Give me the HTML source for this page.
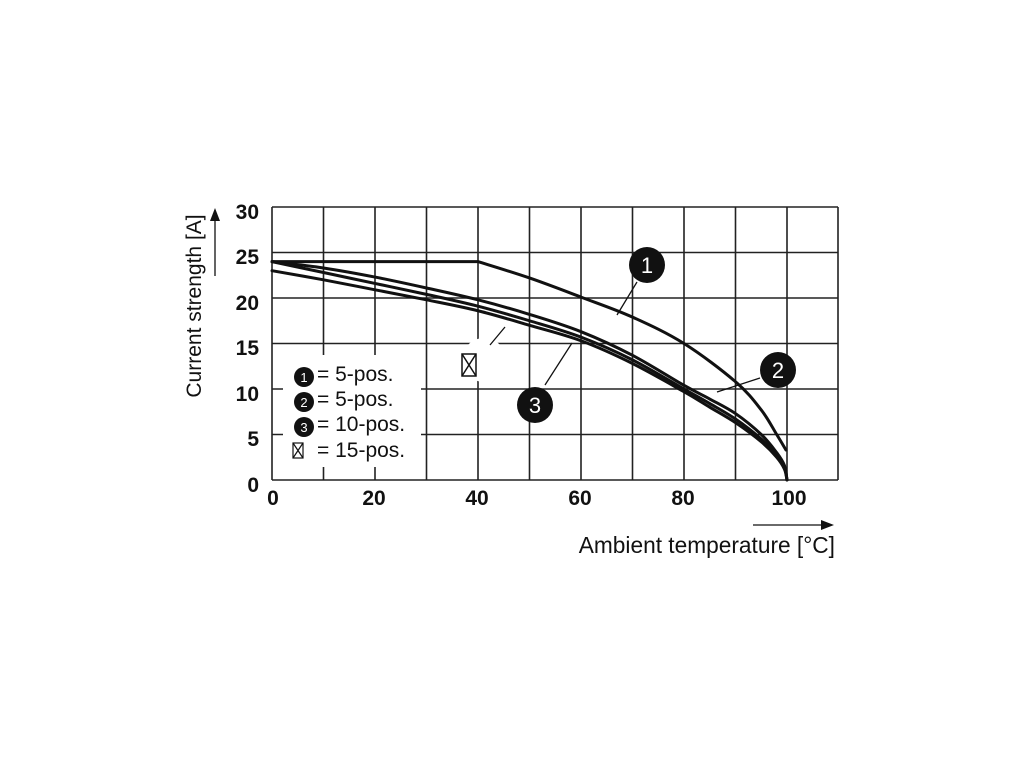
<!DOCTYPE html>
<html><head><style>body{margin:0;background:#fff}</style></head><body>
<svg id="s" width="1020" height="765" viewBox="0 0 1020 765" xmlns="http://www.w3.org/2000/svg" font-family="Liberation Sans, sans-serif">
<rect width="1020" height="765" fill="#fff"/>
<g stroke="#222" stroke-width="1.6">
<line x1="272" y1="207" x2="838" y2="207"/><line x1="272" y1="252.5" x2="838" y2="252.5"/><line x1="272" y1="298" x2="838" y2="298"/><line x1="272" y1="343.5" x2="838" y2="343.5"/><line x1="272" y1="389" x2="838" y2="389"/><line x1="272" y1="434.5" x2="838" y2="434.5"/><line x1="272" y1="480" x2="838" y2="480"/>
<line x1="272" y1="207" x2="272" y2="480"/><line x1="323.5" y1="207" x2="323.5" y2="480"/><line x1="375" y1="207" x2="375" y2="480"/><line x1="426.5" y1="207" x2="426.5" y2="480"/><line x1="478" y1="207" x2="478" y2="480"/><line x1="529.5" y1="207" x2="529.5" y2="480"/><line x1="581" y1="207" x2="581" y2="480"/><line x1="632.5" y1="207" x2="632.5" y2="480"/><line x1="684" y1="207" x2="684" y2="480"/><line x1="735.5" y1="207" x2="735.5" y2="480"/><line x1="787" y1="207" x2="787" y2="480"/><line x1="838" y1="207" x2="838" y2="480"/>
</g>
<rect x="283" y="355" width="138" height="112" fill="#fff"/>
<circle cx="484" cy="360" r="22" fill="#fff"/>
<g id="curves" fill="none" stroke="#111" stroke-width="3" stroke-linejoin="round" stroke-linecap="round"></g>
<g stroke="#111" stroke-width="1.3">
<line x1="637" y1="282" x2="617" y2="315"/><line x1="760" y1="378" x2="717" y2="392"/><line x1="545" y1="385" x2="572" y2="343"/><line x1="490" y1="345" x2="505" y2="327"/>
</g>
<g font-size="22" fill="#fff" text-anchor="middle">
<circle cx="647" cy="265" r="18" fill="#111"/><text x="647" y="273">1</text>
<circle cx="778" cy="370" r="18" fill="#111"/><text x="778" y="378">2</text>
<circle cx="535" cy="405" r="18" fill="#111"/><text x="535" y="413">3</text>
</g>
<g fill="none" stroke="#111" stroke-width="1.5"><rect x="462" y="354" width="14" height="22"/><path d="M462,354 L476,376 M476,354 L462,376"/></g>
<g font-size="21" fill="#111">
<circle cx="304" cy="377" r="10"/><text x="304" y="382" fill="#fff" font-size="13" text-anchor="middle">1</text><text x="317" y="381">= 5-pos.</text>
<circle cx="304" cy="402" r="10"/><text x="304" y="407" fill="#fff" font-size="13" text-anchor="middle">2</text><text x="317" y="406">= 5-pos.</text>
<circle cx="304" cy="427" r="10"/><text x="304" y="432" fill="#fff" font-size="13" text-anchor="middle">3</text><text x="317" y="431">= 10-pos.</text>
<text x="317" y="457">= 15-pos.</text>
</g>
<g fill="none" stroke="#111" stroke-width="1.2"><rect x="293" y="443" width="10" height="15"/><path d="M293,443 L303,458 M303,443 L293,458"/></g>
<g font-size="21" font-weight="bold" fill="#111" text-anchor="end">
<text x="259" y="219">30</text><text x="259" y="264">25</text><text x="259" y="310">20</text><text x="259" y="355">15</text><text x="259" y="401">10</text><text x="259" y="446">5</text><text x="259" y="492">0</text>
</g>
<g font-size="21" font-weight="bold" fill="#111" text-anchor="middle">
<text x="273" y="505">0</text><text x="374" y="505">20</text><text x="477" y="505">40</text><text x="580" y="505">60</text><text x="683" y="505">80</text><text x="789" y="505">100</text>
</g>
<text transform="translate(201,306) rotate(-90)" font-size="21" fill="#111" text-anchor="middle">Current strength [A]</text>
<line x1="215" y1="276" x2="215" y2="220" stroke="#111" stroke-width="1.3"/><path d="M215,208 L210,221 L220,221 Z" fill="#111"/>
<text x="835" y="553" font-size="22.7" fill="#111" text-anchor="end">Ambient temperature [°C]</text>
<line x1="753" y1="525" x2="822" y2="525" stroke="#111" stroke-width="1.3"/><path d="M834,525 L821,520 L821,530 Z" fill="#111"/>
</svg>
<script>
function X(t){return 272+t*5.15}function Y(i){return 480-i*9.1}
function path(pts){var p=pts.map(function(a){return[X(a[0]),Y(a[1])]});var d="M"+p[0][0]+","+p[0][1];
for(var i=0;i<p.length-1;i++){var p0=p[i-1]||p[i],p1=p[i],p2=p[i+1],p3=p[i+2]||p2;
d+=" C"+(p1[0]+(p2[0]-p0[0])/6)+","+(p1[1]+(p2[1]-p0[1])/6)+" "+(p2[0]-(p3[0]-p1[0])/6)+","+(p2[1]-(p3[1]-p1[1])/6)+" "+p2[0]+","+p2[1];}
return d;}
var T=[0,10,20,30,40,50,60,70,80,85,90,95,98,99.5,100];
function mk(v){return T.map(function(t,i){return[t,v[i]]})}
var sets=[
mk([24,23.3,22.3,21.1,19.8,18.2,16.3,13.7,10.4,8.9,7.3,5.0,3.0,1.6,0]),
mk([24,22.8,21.6,20.4,19.1,17.5,15.7,13.2,10.0,8.4,6.7,4.5,2.7,1.4,0]),
mk([23,22,20.9,19.8,18.6,17.0,15.3,12.8,9.7,8.0,6.3,4.2,2.5,1.2,0])];
var g=document.getElementById("curves"),h="";
h+='<path d="M272,261.6 L478,261.6 '+path([[40,24],[50,22.2],[60,20.1],[70,17.9],[80,15],[90,10.8],[95,7.7],[98,5.0],[99.8,3.3]]).slice(1).replace(/^[^C]*/,"")+'"/>';
sets.forEach(function(s){h+='<path d="'+path(s)+'"/>'});
g.innerHTML=h;
</script>
</body></html>
